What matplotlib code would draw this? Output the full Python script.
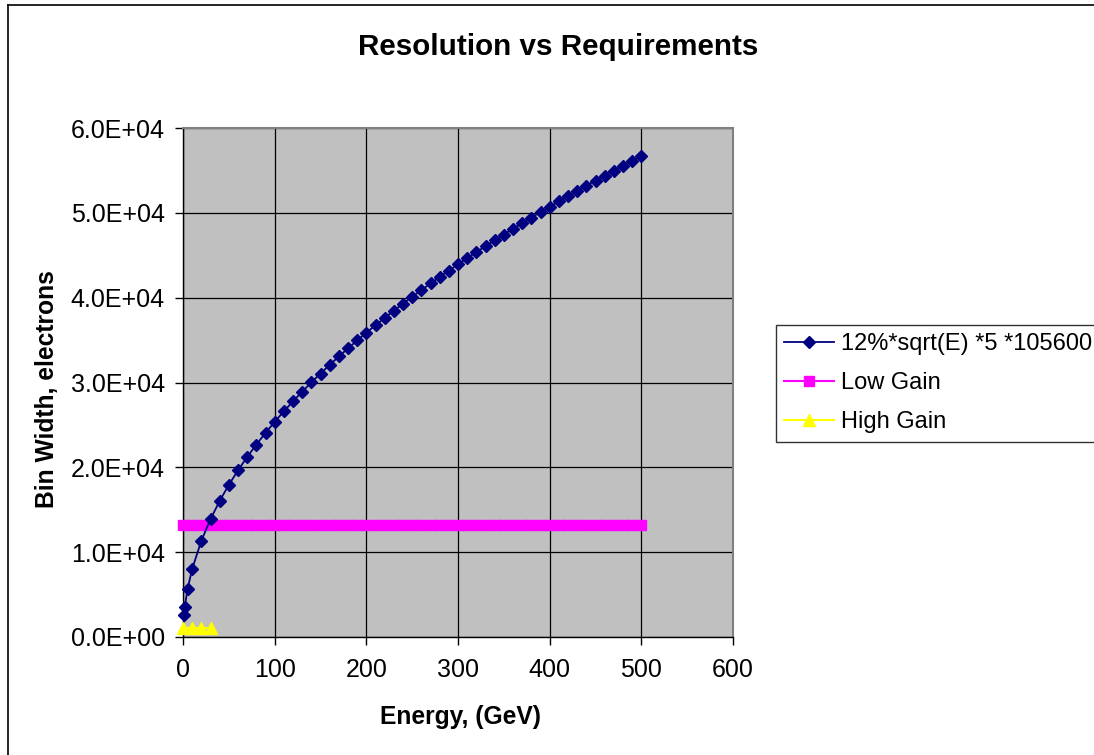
import matplotlib
matplotlib.use("Agg")
import matplotlib.pyplot as plt
from matplotlib.lines import Line2D
from matplotlib.ticker import FuncFormatter, MultipleLocator

plt.rcParams['font.family'] = ['Liberation Sans', 'DejaVu Sans']

# resolution curve
energy = [1, 2, 5, 10, 20, 30, 40, 50, 60, 70, 80, 90, 100, 110, 120, 130, 140, 150,
          160, 170, 180, 190, 200, 210, 220, 230, 240, 250, 260, 270, 280, 290, 300,
          310, 320, 330, 340, 350, 360, 370, 380, 390, 400, 410, 420, 430, 440, 450,
          460, 470, 480, 490, 500]
resolution = [2540, 3590, 5670, 8020, 11340, 13890, 16040, 17930, 19640, 21220, 22680,
              24060, 25360, 26600, 27780, 28920, 30010, 31060, 32080, 33070, 34020,
              34960, 35870, 36750, 37620, 38460, 39290, 40100, 40890, 41670, 42440,
              43190, 43930, 44650, 45370, 46070, 46760, 47440, 48120, 48780, 49440,
              50080, 50720, 51350, 51970, 52590, 53200, 53800, 54390, 54980, 55560,
              56140, 56710]

energy_low = [0, 10, 20, 30, 40, 50, 60, 70, 80, 90, 100, 110, 120, 130, 140, 150, 160,
              170, 180, 190, 200, 210, 220, 230, 240, 250, 260, 270, 280, 290, 300, 310,
              320, 330, 340, 350, 360, 370, 380, 390, 400, 410, 420, 430, 440, 450, 460,
              470, 480, 490, 500]
low_gain = [13200] * 51

energy_high = [0, 10, 20, 30]
high_gain = [1050, 1050, 1050, 1050]

fig = plt.figure(figsize=(10.94, 7.55), dpi=100)
ax = fig.add_axes([183 / 1094, 118 / 755, 550 / 1094, 509 / 755])
ax.set_facecolor('#C0C0C0')

ax.plot(energy, resolution, color='#000080', lw=1.3, marker='D', ms=6,
        label='12%*sqrt(E) *5 *105600', zorder=5, clip_on=False)
ax.plot(energy_low, low_gain, color='#FF00FF', lw=1.5, marker='s', ms=7.2,
        label='Low Gain', zorder=4, clip_on=False)
ax.plot(energy_high, high_gain, color='#FFFF00', lw=1.5, marker='^', ms=9,
        label='High Gain', zorder=4, clip_on=False)

ax.set_xlim(0, 600)
ax.set_ylim(0, 60000)
ax.xaxis.set_major_locator(MultipleLocator(100))
ax.yaxis.set_major_locator(MultipleLocator(10000))
ax.yaxis.set_major_formatter(FuncFormatter(lambda v, p: f"{v:.1E}"))
ax.grid(True, color='black', lw=0.9)
ax.set_axisbelow(True)
ax.tick_params(axis='both', direction='out', length=6, width=1, labelsize=18, color='black')
ax.tick_params(axis='y', pad=7)
ax.tick_params(axis='x', pad=9)
for s in ['top', 'right']:
    ax.spines[s].set_color('#808080')
    ax.spines[s].set_linewidth(1.5)
for s in ['left', 'bottom']:
    ax.spines[s].set_color('black')
    ax.spines[s].set_linewidth(1)

fig.text(558 / 1094, 1 - 47 / 755, 'Resolution vs Requirements', ha='center', va='center',
         fontsize=21.3, fontweight='bold')
fig.text(460 / 1094, 1 - 717 / 755, 'Energy, (GeV)', ha='center', va='center',
         fontsize=17.7, fontweight='bold')
fig.text(47 / 1094, 1 - 389 / 755, 'Bin Width, electrons', ha='center', va='center',
         rotation=90, fontsize=17.7, fontweight='bold')

leg = fig.legend(loc='upper left', bbox_to_anchor=(776 / 1094, 1 - 325 / 755),
                 fontsize=17, frameon=True, fancybox=False, shadow=False,
                 handlelength=2.1, handletextpad=0.3, labelspacing=0.72, borderpad=0.35,
                 borderaxespad=0)
leg.get_frame().set_edgecolor('black')
leg.get_frame().set_linewidth(1)

# chart frame (left and top edges visible)
fig.add_artist(Line2D([8 / 1094, 8 / 1094], [0, 1 - 5 / 755], color='black', lw=1.2))
fig.add_artist(Line2D([8 / 1094, 1], [1 - 5 / 755, 1 - 5 / 755], color='black', lw=1.2))

fig.savefig('out.png', dpi=100)
